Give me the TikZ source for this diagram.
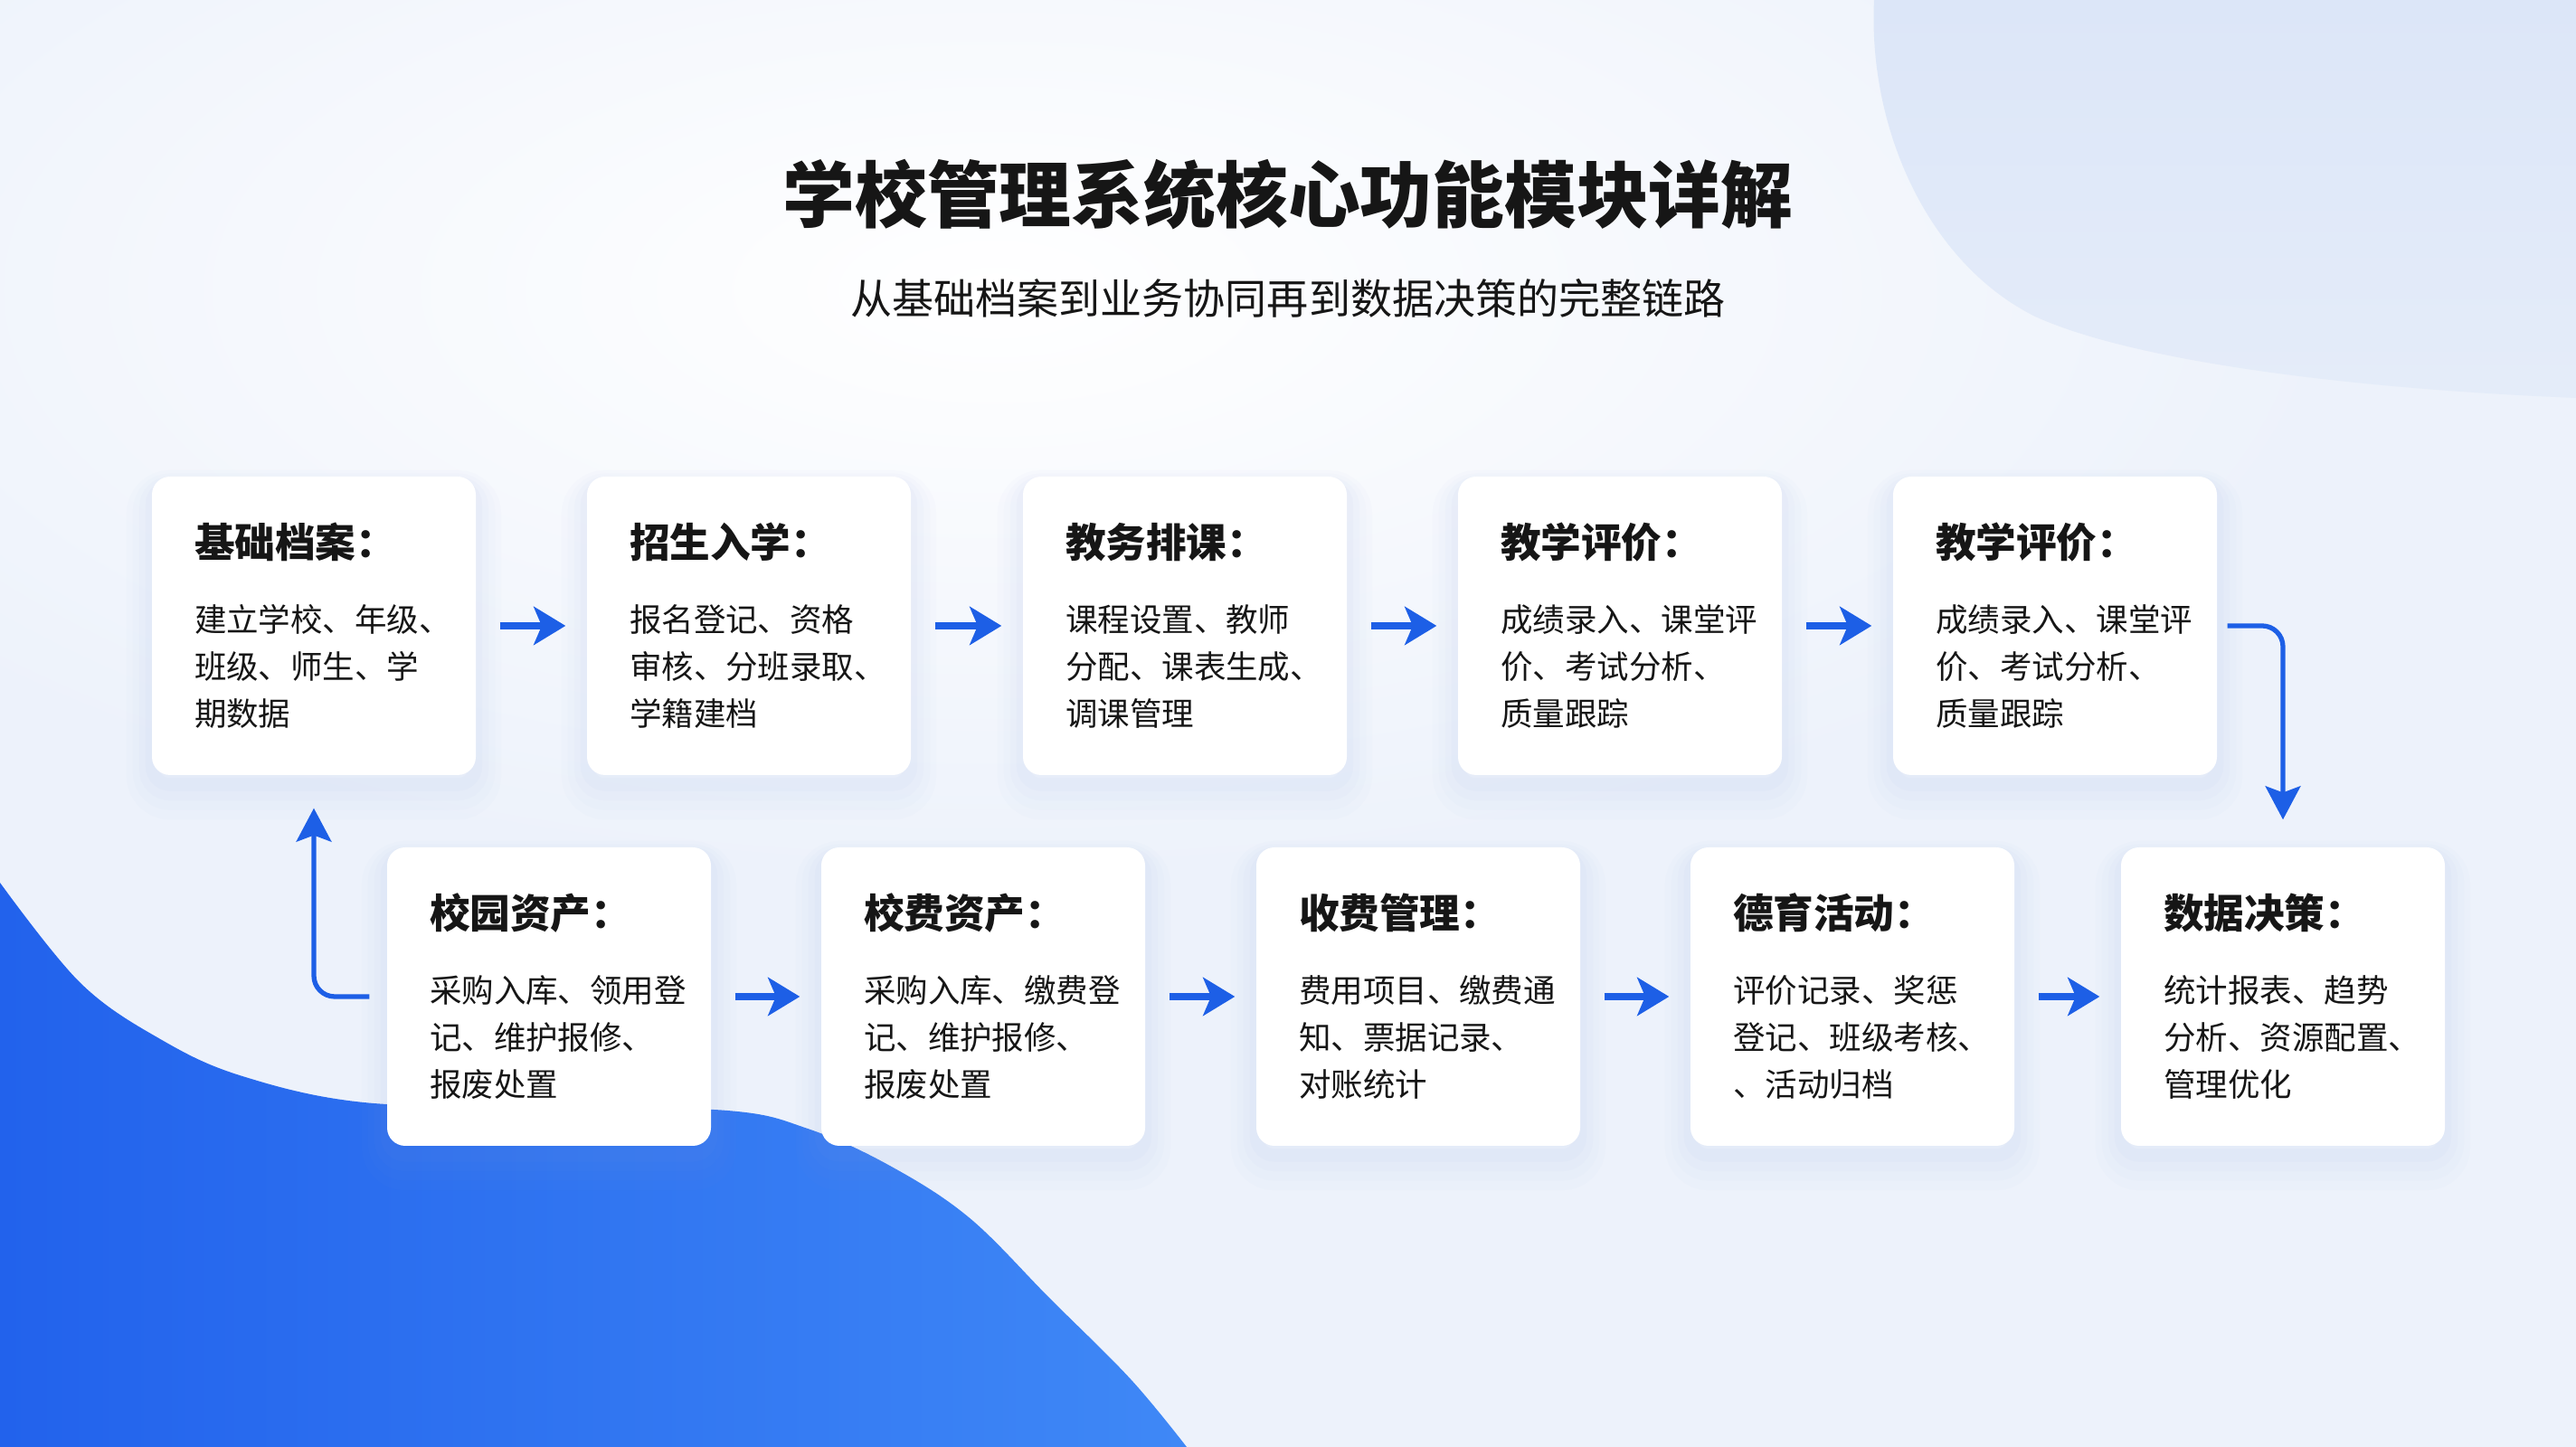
\documentclass[tikz,border=0pt]{standalone}
\usepackage{fontspec}
\setmainfont{Noto Sans CJK SC}
\usetikzlibrary{arrows.meta}

\definecolor{flowblue}{HTML}{1D5FE6}
\definecolor{bgbase}{HTML}{EDF2FB}
\definecolor{blobtop}{HTML}{DCE6F8}
\definecolor{blobdeep}{HTML}{2262EC}
\definecolor{blobsoft}{HTML}{3F88F6}
\definecolor{shadowc}{HTML}{8FA2E0}
\definecolor{ink}{HTML}{161616}

\newcommand{\cardhead}[1]{{\fontsize{12.7}{15}\selectfont\bfseries #1}}

\tikzset{
  card/.style={fill=white, rounded corners=0.2cm, minimum width=3.58cm, minimum height=3.30cm,
    inner xsep=0.47cm, text width=2.64cm, align=left, text=ink,
    font=\fontsize{10.1}{14.8}\selectfont,
    preaction={draw=shadowc, line width=16pt, draw opacity=0.025, transform canvas={yshift=-6pt}},
    preaction={draw=shadowc, line width=12pt, draw opacity=0.025, transform canvas={yshift=-5pt}},
    preaction={draw=shadowc, line width=8pt, draw opacity=0.03, transform canvas={yshift=-4pt}},
    preaction={draw=shadowc, line width=4pt, draw opacity=0.04, transform canvas={yshift=-3pt}}},
  flow/.style={draw=flowblue, line width=2.3pt, shorten <=0.26cm, shorten >=0.23cm,
    -{Stealth[length=10pt, width=12pt, inset=2.5pt]}},
  turn/.style={draw=flowblue, line width=1.5pt, rounded corners=0.23cm,
    -{Stealth[length=10.5pt, width=11pt, inset=2pt]}}
}

\begin{document}
\begin{tikzpicture}
  \useasboundingbox (0,0) rectangle (28.48,16);
  % background
  \begin{scope}
    \clip (0,0) rectangle (28.48,16);
    \fill[bgbase] (0,0) rectangle (28.48,16);
    \shade[inner color=white, outer color=bgbase] (11,12.8) ellipse (15 and 6.5);
    \shade[top color=blobtop, bottom color=bgbase!50!blobtop] (20.72,16) .. controls (20.65,14.6) and (21.3,13.1) .. (22.5,12.5)
      .. controls (23.6,12.0) and (26,11.7) .. (28.48,11.6) -- (28.48,16) -- cycle;
    \shade[left color=blobdeep, right color=blobsoft] plot[smooth, tension=0.6] coordinates {(0,6.24) (0.89,5.13) (1.79,4.50)
      (2.68,4.10) (4.02,3.81) (6.0,3.76) (8.04,3.72) (8.93,3.52) (9.82,3.12) (10.71,2.54) (11.61,1.64) (12.50,0.75) (13.12,0)}
      -- (0,0) -- cycle;
  \end{scope}

  % titles
  \node[font=\fontsize{22.7}{27}\selectfont\bfseries, text=ink] (title) at (14.24,13.85) {学校管理系统核心功能模块详解};
  \node[font=\fontsize{13.1}{15}\selectfont, text=ink] (subtitle) at (14.24,12.70) {从基础档案到业务协同再到数据决策的完整链路};

  % top row
  \node[card] (arch) at (3.47,9.08) {\cardhead{基础档案：}\\[8.5pt]建立学校、年级、\\班级、师生、学\\期数据};
  \node[card] (enrol) at (8.28,9.08) {\cardhead{招生入学：}\\[8.5pt]报名登记、资格\\审核、分班录取、\\学籍建档};
  \node[card] (course) at (13.10,9.08) {\cardhead{教务排课：}\\[8.5pt]课程设置、教师\\分配、课表生成、\\调课管理};
  \node[card] (evalA) at (17.91,9.08) {\cardhead{教学评价：}\\[8.5pt]成绩录入、课堂评\\价、考试分析、\\质量跟踪};
  \node[card] (evalB) at (22.72,9.08) {\cardhead{教学评价：}\\[8.5pt]成绩录入、课堂评\\价、考试分析、\\质量跟踪};

  % bottom row
  \node[card] (asset) at (6.07,4.98) {\cardhead{校园资产：}\\[8.5pt]采购入库、领用登\\记、维护报修、\\报废处置};
  \node[card] (fee) at (10.87,4.98) {\cardhead{校费资产：}\\[8.5pt]采购入库、缴费登\\记、维护报修、\\报废处置};
  \node[card] (charge) at (15.68,4.98) {\cardhead{收费管理：}\\[8.5pt]费用项目、缴费通\\知、票据记录、\\对账统计};
  \node[card] (moral) at (20.48,4.98) {\cardhead{德育活动：}\\[8.5pt]评价记录、奖惩\\登记、班级考核、\\、活动归档};
  \node[card] (decide) at (25.24,4.98) {\cardhead{数据决策：}\\[8.5pt]统计报表、趋势\\分析、资源配置、\\管理优化};

  % connectors
  \draw[flow] (arch.east) -- (enrol.west);
  \draw[flow] (enrol.east) -- (course.west);
  \draw[flow] (course.east) -- (evalA.west);
  \draw[flow] (evalA.east) -- (evalB.west);
  \draw[flow] (asset.east) -- (fee.west);
  \draw[flow] (fee.east) -- (charge.west);
  \draw[flow] (charge.east) -- (moral.west);
  \draw[flow] (moral.east) -- (decide.west);
  \draw[turn, shorten <=0.11cm, shorten >=0.30cm] (evalB.east) -| (decide.north);
  \draw[turn, shorten <=0.19cm, shorten >=0.36cm] (asset.west) -| (arch.south);
\end{tikzpicture}
\end{document}
